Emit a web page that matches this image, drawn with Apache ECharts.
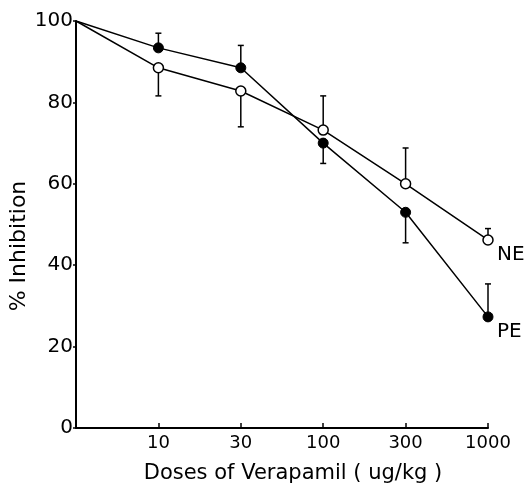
<!DOCTYPE html>
<html>
<head>
<meta charset="utf-8">
<script src="https://cdn.jsdelivr.net/npm/echarts@6/dist/echarts.min.js"></script>
<style>
  html, body { margin: 0; padding: 0; background: #fff; }
  #main { width: 532px; height: 494px; }
</style>
</head>
<body>
<div id="main"></div>
<script>
// dose positions: 0 = control, then 10 ... 1000 ug/kg, equally spaced
const doseLabels = ['', '10', '30', '100', '300', '1000']
const pePoints = [100, 93.4, 88.5, 70, 53, 27.3]
const nePoints = [100, 88.5, 82.8, 73.2, 60, 46.2]
// end of one-sided error bars (null = none)
const peErrEnd = [null, 97, 94, 65, 45.5, 35.4]
const neErrEnd = [null, 81.6, 74, 81.6, 68.8, 49]

const font = 'DejaVu Sans'

function toXY (arr) {
  // no marker on the control point
  return arr.map((v, i) => i === 0 ? { value: [i, v], symbol: 'none' } : [i, v])
}

function errData (vals, ends) {
  const out = []
  for (let i = 0; i < vals.length; i++) {
    if (ends[i] != null) out.push([i, vals[i], ends[i]])
  }
  return out
}

function errRender (params, api) {
  const x = api.value(0)
  const p0 = api.coord([x, api.value(1)])
  const p1 = api.coord([x, api.value(2)])
  const cap = 3
  return {
    type: 'group',
    children: [
      { type: 'line', shape: { x1: p0[0], y1: p0[1], x2: p1[0], y2: p1[1] }, style: { stroke: '#000', lineWidth: 1.5 } },
      { type: 'line', shape: { x1: p1[0] - cap, y1: p1[1], x2: p1[0] + cap, y2: p1[1] }, style: { stroke: '#000', lineWidth: 1.5 } }
    ]
  }
}

const chart = echarts.init(document.getElementById('main'))
chart.setOption({
  backgroundColor: '#fff',
  animation: false,
  grid: { left: 76, right: 44, top: 21, bottom: 66 },
  graphic: [
    {
      type: 'text',
      x: 293,
      y: 474,
      style: { text: 'Doses of Verapamil ( ug/kg )', font: '21px "DejaVu Sans"', fill: '#000', align: 'center', verticalAlign: 'middle' }
    },
    {
      type: 'text',
      x: 19,
      y: 246,
      rotation: Math.PI / 2,
      style: { text: '% Inhibition', font: '22px "DejaVu Sans"', fill: '#000', align: 'center', verticalAlign: 'middle' }
    }
  ],
  xAxis: {
    type: 'value',
    min: 0,
    max: 5,
    interval: 1,
    axisLine: { lineStyle: { color: '#000', width: 2 } },
    axisTick: { inside: true, length: 5, lineStyle: { color: '#000', width: 1.5 } },
    axisLabel: {
      fontFamily: font, fontSize: 18, color: '#000', margin: 6,
      formatter: v => doseLabels[v] || ''
    },
    splitLine: { show: false }
  },
  yAxis: {
    type: 'value',
    min: 0,
    max: 100,
    interval: 20,
    axisLine: { lineStyle: { color: '#000', width: 2 } },
    axisTick: { inside: false, length: 3, lineStyle: { color: '#000', width: 1.5 } },
    axisLabel: { fontFamily: font, fontSize: 20, color: '#000', margin: 3 },
    splitLine: { show: false }
  },
  series: [
    {
      name: 'NE err',
      type: 'custom',
      renderItem: errRender,
      data: errData(nePoints, neErrEnd),
      z: 1
    },
    {
      name: 'PE err',
      type: 'custom',
      renderItem: errRender,
      data: errData(pePoints, peErrEnd),
      z: 1
    },
    {
      name: 'NE',
      type: 'line',
      data: toXY(nePoints),
      symbol: 'circle',
      symbolSize: 10,
      showSymbol: true,
      lineStyle: { color: '#000', width: 1.5 },
      itemStyle: { color: '#fff', borderColor: '#000', borderWidth: 1.5 },
      endLabel: { show: true, formatter: 'NE', fontFamily: font, fontSize: 20, color: '#000', offset: [1, 15] },
      z: 3
    },
    {
      name: 'PE',
      type: 'line',
      data: toXY(pePoints),
      symbol: 'circle',
      symbolSize: 10,
      showSymbol: true,
      lineStyle: { color: '#000', width: 1.5 },
      itemStyle: { color: '#000', borderColor: '#000', borderWidth: 1 },
      endLabel: { show: true, formatter: 'PE', fontFamily: font, fontSize: 20, color: '#000', offset: [1, 15] },
      z: 3
    }
  ]
})
</script>
</body>
</html>
